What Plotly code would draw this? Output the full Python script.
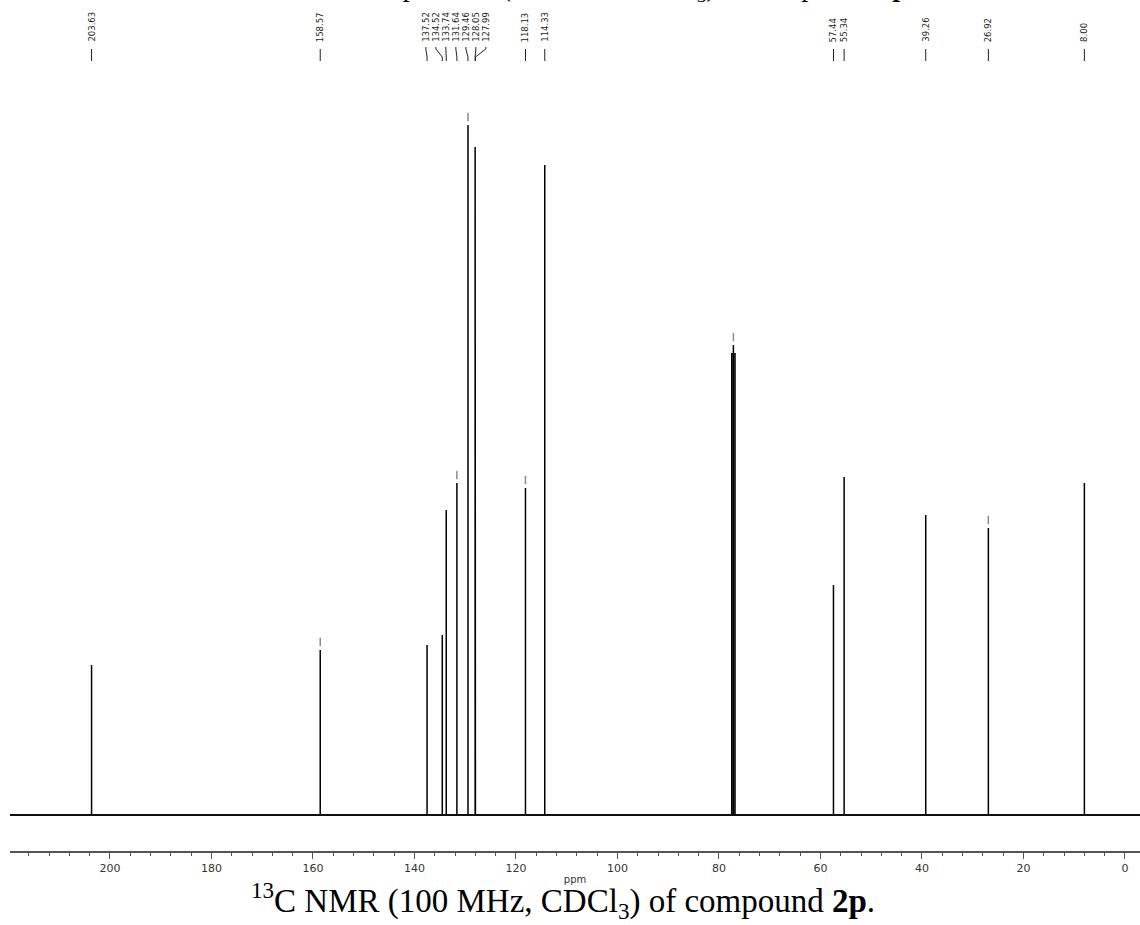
import plotly.graph_objects as go

# ---- data ----
peak_ppm = [203.63, 158.57, 137.52, 134.52, 133.74, 131.64, 129.46, 128.05, 127.99,
            118.13, 114.33, 77.48, 77.16, 76.84, 57.44, 55.34, 39.26, 26.92, 8.00]
peak_int = [150, 165, 170, 180, 305, 332, 690, 668, 640,
            327, 650, 462, 470, 462, 230, 338, 300, 287, 332]

label_ppm = [203.63, 158.57, 137.52, 134.52, 133.74, 131.64, 129.46, 128.05, 127.99,
             118.13, 114.33, 57.44, 55.34, 39.26, 26.92, 8.00]

pick_ppm = [158.57, 131.64, 129.46, 118.13, 77.16, 26.92]

x_range = [219.7, -2.96]
y_range = [-36, 745]

W, H = 1140, 925
M_L, M_R, M_T, M_B = 10, 0, 70, 74
plot_h = H - M_T - M_B


def paper_y(px):
    return (H - M_B - px) / plot_h


# stick spectrum built from the peak table
sx, sy = [x_range[0]], [0]
for p, h in sorted(zip(peak_ppm, peak_int), reverse=True):
    sx += [p, p, p]
    sy += [0, h, 0]
sx.append(x_range[1])
sy.append(0)

pick_int = [dict(zip(peak_ppm, peak_int))[p] + 8 for p in pick_ppm]

fig = go.Figure()
fig.add_trace(go.Scatter(x=[x_range[0], x_range[1]], y=[0, 0], mode="lines",
                         line=dict(color="#404040", width=2.2), hoverinfo="skip"))
fig.add_trace(go.Scatter(x=sx, y=sy, mode="lines",
                         line=dict(color="black", width=1.5), hoverinfo="skip"))
fig.add_trace(go.Scatter(x=pick_ppm, y=pick_int, mode="markers",
                         marker=dict(symbol="line-ns-open", size=6, color="#8a8a8a",
                                     line=dict(color="#8a8a8a", width=1.5)),
                         hoverinfo="skip"))

# spread label positions: merge crowded neighbours into centred groups
min_sep = 1.97
groups = [[p] for p in sorted(label_ppm, reverse=True)]


def positions(g):
    c = sum(g) / len(g)
    n = len(g)
    return [c + (n - 1) / 2 * min_sep - i * min_sep for i in range(n)]


merged = True
while merged:
    merged = False
    for i in range(len(groups) - 1):
        if positions(groups[i])[-1] - positions(groups[i + 1])[0] < min_sep:
            groups[i] = groups[i] + groups.pop(i + 1)
            merged = True
            break

label_pos = []
for g in groups:
    for p, lp in zip(g, positions(g)):
        label_pos.append((p, lp))

shapes = []
annotations = []
for p, lp in label_pos:
    annotations.append(dict(x=lp, y=paper_y(44), xref="x", yref="paper",
                            text=f"{p:.2f}", textangle=-90, showarrow=False,
                            xanchor="center", yanchor="bottom",
                            font=dict(family="DejaVu Sans", size=8.5, color="#222")))
    if abs(lp - p) < 1e-9:
        path = f"M {lp},{paper_y(49)} L {p},{paper_y(61)}"
    else:
        path = (f"M {lp},{paper_y(47)} L {lp},{paper_y(49)} "
                f"L {p},{paper_y(57)} L {p},{paper_y(61)}")
    shapes.append(dict(type="path", xref="x", yref="paper", path=path,
                       line=dict(color="#222", width=1)))

# caption
annotations.append(dict(x=0.4898, y=paper_y(900), xref="paper", yref="paper",
                        text="<sup>13</sup>C NMR (100 MHz, CDCl<sub>3</sub>) of compound <b>2p</b>.",
                        showarrow=False, xanchor="center", yanchor="middle",
                        font=dict(family="Liberation Serif", size=33, color="black")))
# previous caption, cut off at the top edge
annotations.append(dict(x=0.522, y=paper_y(8.5), xref="paper", yref="paper",
                        text="<sup>1</sup>H NMR spectrum (400 MHz, CDCl<sub>3</sub>) of compound <b>2p</b>.",
                        showarrow=False, xanchor="center", yanchor="bottom",
                        font=dict(family="Liberation Serif", size=28, color="black")))

fig.update_layout(
    width=W, height=H,
    margin=dict(l=M_L, r=M_R, t=M_T, b=M_B, pad=0),
    paper_bgcolor="white", plot_bgcolor="white",
    showlegend=False,
    shapes=shapes, annotations=annotations,
    xaxis=dict(range=x_range, showgrid=False, zeroline=False,
               showline=True, linecolor="#555", linewidth=1.5,
               ticks="outside", ticklen=6, tickwidth=1.2, tickcolor="#555",
               tick0=0, dtick=20,
               minor=dict(dtick=4, tick0=0, ticks="outside", ticklen=3,
                          tickcolor="#555", tickwidth=1.2),
               tickfont=dict(family="DejaVu Sans", size=11, color="#333"),
               title=dict(text="ppm", standoff=2,
                          font=dict(family="DejaVu Sans", size=10, color="#333"))),
    yaxis=dict(range=y_range, visible=False, fixedrange=True),
)

fig.write_html("out.html", config={"displayModeBar": False},
               post_script="document.body.style.margin='0';document.body.style.overflow='hidden';")
